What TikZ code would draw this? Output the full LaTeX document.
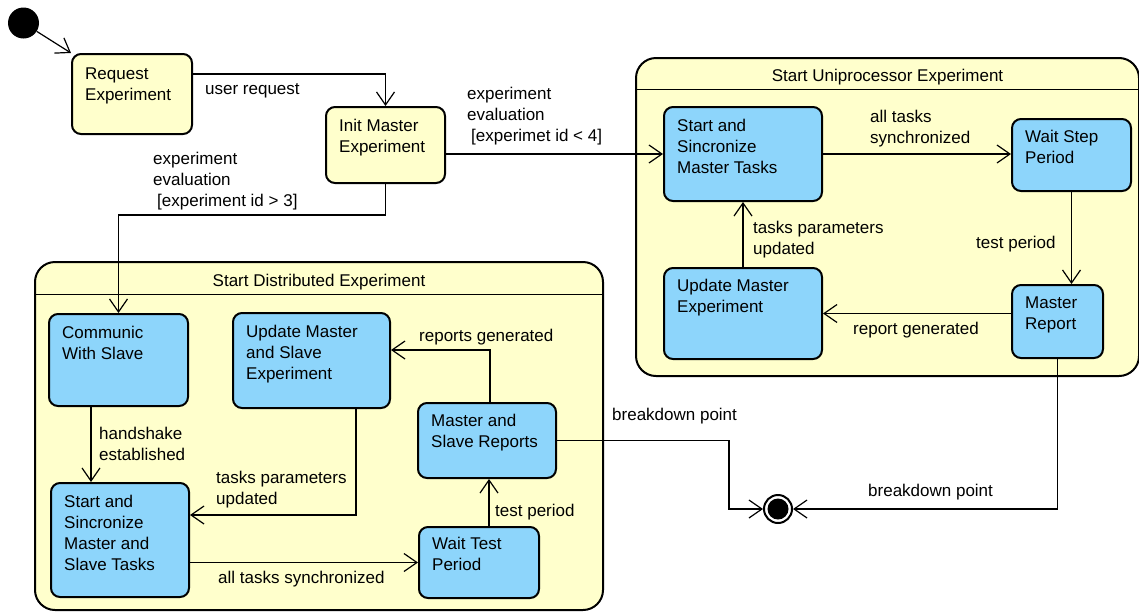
\documentclass[tikz,border=0pt]{standalone}
\usepackage{fontspec}
\setmainfont{Liberation Sans}
\usetikzlibrary{arrows.meta,calc}
\definecolor{stateblue}{RGB}{141,213,251}
\definecolor{stateyellow}{RGB}{255,255,204}

% state box: name, x, y, width, height, fill, text offset from top, text (top-left aligned)
\newcommand\statebox[8]{%
  \node[stbox, fill=#6, minimum width=#4pt, minimum height=#5pt] (#1) at (#2,#3) {};
  \node[txt] (#1-txt) at ([shift={(14pt,-#7pt)}]#1.north west) {#8};
}

\begin{document}
\begin{tikzpicture}[x=1pt,y=-1pt,
  every node/.style={font=\fontsize{17}{21}\selectfont},
  stbox/.style={draw, line width=2pt, rounded corners=9pt, anchor=north west, inner sep=0pt},
  compbox/.style={draw, line width=2pt, rounded corners=20pt, anchor=north west, inner sep=0pt, fill=stateyellow},
  sepline/.style={line width=1pt},
  txt/.style={anchor=north west, inner sep=0pt, align=left, execute at begin node=\strut},
  conn/.style={line width=1.2pt, -{Straight Barb[length=13pt,width=18pt]}},
]
\useasboundingbox (0,0) rectangle (1139,611);

% composite states
\node[compbox, minimum width=503pt, minimum height=318pt] (uni) at (635,57) {};
\draw[sepline] ($(uni.north west)+(0,32)$) -- ($(uni.north east)+(0,32)$);
\node[anchor=base] (uni-title) at ($(uni.north)+(0,24)$) {Start Uniprocessor Experiment};

\node[compbox, minimum width=568pt, minimum height=348pt] (dist) at (34,261) {};
\draw[sepline] ($(dist.north west)+(0,33)$) -- ($(dist.north east)+(0,33)$);
\node[anchor=base] (dist-title) at ($(dist.north)+(0,25)$) {Start Distributed Experiment};

% pseudo states
\node[circle, fill=black, minimum size=31pt, inner sep=0pt] (start) at (23.5,23) {};
\node[circle, draw, line width=2pt, fill=white, minimum size=28pt, inner sep=0pt,
  path picture={\fill[black] (path picture bounding box.center) circle (10.5pt);}] (fin) at (778,509) {};

% top level states
\statebox{req}{71}{53}{120}{80}{stateyellow}{15}{Request\\Experiment}
\statebox{initm}{325}{106}{119}{76}{stateyellow}{12.5}{Init Master\\Experiment}

% uniprocessor states
\statebox{ssmt}{663}{106}{158}{94}{stateblue}{12.5}{Start and\\Sincronize\\Master Tasks}
\statebox{wsp}{1011}{118}{119}{72}{stateblue}{11.5}{Wait Step\\Period}
\statebox{mrep}{1011}{284}{91}{73}{stateblue}{12.5}{Master\\Report}
\statebox{umx}{663}{267}{158}{91}{stateblue}{12}{Update Master\\Experiment}

% distributed states
\statebox{comm}{48}{313}{139}{92}{stateblue}{13}{Communic\\With Slave}
\statebox{umsx}{232}{312}{157}{95}{stateblue}{13}{Update Master\\and Slave\\Experiment}
\statebox{msr}{417}{402}{138}{75}{stateblue}{12}{Master and\\Slave Reports}
\statebox{ssmst}{50}{482}{138}{114}{stateblue}{13}{Start and\\Sincronize\\Master and\\Slave Tasks}
\statebox{wtp}{418}{526}{120}{71}{stateblue}{10.5}{Wait Test\\Period}

% transitions
\draw[conn] (start) -- (req.north west);
\draw[conn] (req.north east) ++(0,21) -| (initm.north);
\draw[conn] (initm.east |- ssmt.west) -- (ssmt.west);
\draw[conn] (initm.south) -- ++(0,31) -| (comm.north);

\draw[conn] (ssmt.east) -- (ssmt.east -| wsp.west);
\draw[conn] (wsp.south) -- (wsp.south |- mrep.north);
\draw[conn] (mrep.west |- umx.east) -- (umx.east);
\draw[conn] (umx.north) -- (ssmt.south);

\coordinate (hs) at ($(comm.south west)+(43,0)$);
\draw[conn] (hs) -- (hs |- ssmst.north);
\coordinate (tpa) at ($(umsx.south west)+(124,0)$);
\coordinate (tpb) at ($(ssmst.north east)+(0,33)$);
\draw[conn] (tpa) |- (tpb);
\draw[conn] (ssmst.east |- wtp.west) -- (wtp.west);
\coordinate (wt) at ($(wtp.north west)+(71,0)$);
\draw[conn] (wt) -- (wt |- msr.south);
\coordinate (rga) at ($(msr.north west)+(73,0)$);
\coordinate (rgb) at ($(umsx.north east)+(0,38)$);
\draw[conn] (rga) |- (rgb);

\coordinate (bk) at (729,0);
\draw[conn] (msr.east) -- (msr.east -| bk) |- (fin.west);
\draw[conn] (mrep.south) |- (fin.east);

% transition labels
\node[txt] (l-user) at (205,80) {user request};
\node[txt] (l-lt4) at (467,86.5) {experiment\\evaluation\\\hspace*{4pt}[experimet id < 4]};
\node[txt] (l-gt3) at (153,151.5) {experiment\\evaluation\\\hspace*{4pt}[experiment id > 3]};
\node[txt] (l-sync1) at (870,109.5) {all tasks\\synchronized};
\node[txt] (l-tp1) at (976,234) {test period};
\node[txt] (l-rg1) at (853,320) {report generated};
\node[txt] (l-tpu1) at (753,220.5) {tasks parameters\\updated};
\node[txt] (l-rg2) at (419,327) {reports generated};
\node[txt] (l-hs) at (99,426.5) {handshake\\established};
\node[txt] (l-tpu2) at (216,471) {tasks parameters\\updated};
\node[txt] (l-sync2) at (218,569) {all tasks synchronized};
\node[txt] (l-tp2) at (495,502) {test period};
\node[txt] (l-bp1) at (612,406) {breakdown point};
\node[txt] (l-bp2) at (868,482) {breakdown point};
\end{tikzpicture}
\end{document}
